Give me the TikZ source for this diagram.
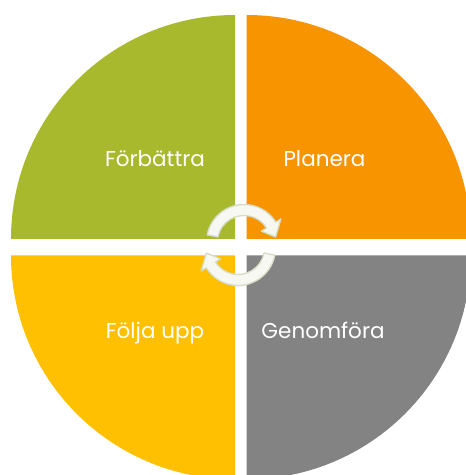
\documentclass[tikz,border=0pt]{standalone}
\usepackage{fontspec}
\setmainfont{Poppins}
\definecolor{qgreen}{RGB}{169,185,45}
\definecolor{qorange}{RGB}{247,148,0}
\definecolor{qyellow}{RGB}{254,192,0}
\definecolor{qgray}{RGB}{131,131,131}
\definecolor{arrfill}{RGB}{247,248,242}
\definecolor{arrline}{RGB}{214,220,196}
\begin{document}
\begin{tikzpicture}[x=1pt,y=1pt,
  lbl/.style={anchor=base,text=white,font=\fontsize{21.5}{24}\selectfont,inner sep=0pt},
  cyc/.style={fill=arrfill,draw=arrline,line width=1.3pt,line join=round}]
\useasboundingbox (0,0) rectangle (466,475);
\fill[white] (0,0) rectangle (466,475);
\begin{scope}
\clip (0,0) rectangle (466,475);
\coordinate (cg) at (235,236);
\coordinate (co) at (246.7,236);
\coordinate (cy) at (235,219.7);
\coordinate (cr) at (246.7,219.7);
\fill[qgreen] (cg) -- ++(0,224) arc[start angle=90,end angle=180,radius=224] -- cycle;
\fill[qorange] (co) -- ++(224,0) arc[start angle=0,end angle=90,radius=224] -- cycle;
\fill[qyellow] (cy) -- ++(-224,0) arc[start angle=180,end angle=270,radius=224] -- cycle;
\fill[qgray] (cr) -- ++(0,-224) arc[start angle=270,end angle=360,radius=224] -- cycle;
\end{scope}
\node[lbl] (forb) at (155,308) {Förbättra};
\node[lbl] (plan) at (324.5,308) {Planera};
\node[lbl] (folj) at (155,136) {Följa upp};
\node[lbl] (genf) at (323,136) {Genomföra};
% circular arrows
\coordinate (mid) at (241,230);
\begin{scope}[shift={(244,233)}]
\draw[cyc] (169:37.5) arc[start angle=169,end angle=32,radius=37.5]
  -- (32:43.5) -- (9:32) -- (32:20.5) -- (32:26.5)
  arc[start angle=32,end angle=169,radius=26.5] -- cycle;
\end{scope}
\begin{scope}[rotate around={180:(mid)}]
\begin{scope}[shift={(244,233)}]
\draw[cyc] (169:37.5) arc[start angle=169,end angle=32,radius=37.5]
  -- (32:43.5) -- (9:32) -- (32:20.5) -- (32:26.5)
  arc[start angle=32,end angle=169,radius=26.5] -- cycle;
\end{scope}
\end{scope}
\end{tikzpicture}
\end{document}
